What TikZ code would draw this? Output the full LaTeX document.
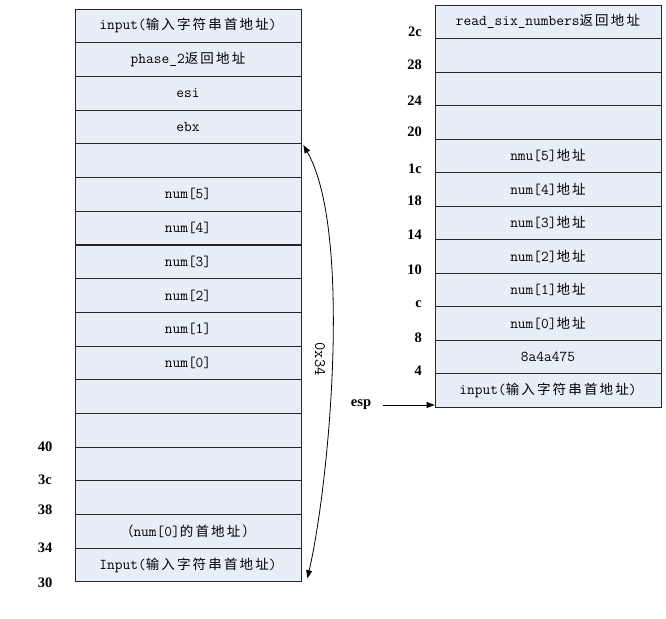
\documentclass[tikz,border=0pt]{standalone}
\usepackage{fontspec}
\setmainfont{Liberation Serif}
\setmonofont{Latin Modern Mono}
\newfontfamily\cjk[LetterSpace=16]{Noto Sans CJK SC}
\usetikzlibrary{arrows.meta,calc}
\newcommand\zh[1]{{\cjk\fontsize{13.5}{15}\selectfont #1}}
\definecolor{cellblue}{HTML}{E8EEF7}
\tikzset{
  cell/.style={draw=black!85, fill=cellblue, line width=0.8pt, minimum width=226pt,
    minimum height=33.6pt, inner sep=0pt, font=\ttfamily\fontsize{15}{17}\selectfont},
  addr/.style={font=\bfseries\fontsize{14.5}{16}\selectfont, inner sep=0pt},
  mytip/.tip={Triangle[length=8pt,width=6pt]},
  conn/.style={line width=0.8pt}
}
\begin{document}
\begin{tikzpicture}[x=1pt,y=-1pt]
\fill[white] (0,0) rectangle (666,618);
\useasboundingbox (0,0) rectangle (666,618);
% left stack
\foreach \i/\t in {0/{input(\zh{输入字符串首地址})},1/{phase\_2\zh{返回地址}},2/esi,3/ebx,4/{},
  5/num[5],6/num[4],7/num[3],8/num[2],9/num[1],10/num[0],11/{},12/{},13/{},14/{},
  15/{\zh{（}num[0]\zh{的首地址）}},16/{Input(\zh{输入字符串首地址})}}
  \node[cell] (L\i) at (188,{25.85+33.7*\i}) {\t};
% right stack
\foreach \i/\t in {0/{read\_six\_numbers\zh{返回地址}},1/{},2/{},3/{},
  4/{nmu[5]\zh{地址}},5/{num[4]\zh{地址}},6/{num[3]\zh{地址}},7/{num[2]\zh{地址}},
  8/{num[1]\zh{地址}},9/{num[0]\zh{地址}},10/8a4a475,11/{input(\zh{输入字符串首地址})}}
  \node[cell] (R\i) at (548,{21.75+33.5*\i}) {\t};
% left address labels
\foreach \n/\y/\t in {a40/447/40,a3c/480/3c,a38/510/38,a34/548/34,a30/583/30}
  \node[addr] (\n) at (45,\y) {\t};
% right address labels
\foreach \n/\y/\t in {b2c/32/2c,b28/65/28,b24/101/24,b20/132/20,b1c/169/1c,b18/201/18,
  b14/235/14,b10/270/10,bc/304/c,b8/338/8,b4/371/4}
  \node[addr, anchor=east] (\n) at (422,\y) {\t};
% span arrow
\coordinate (top) at ($(L3.south east)+(2,1)$);
\coordinate (bot) at ($(L16.south east)+(6,-4)$);
\draw[conn, mytip-mytip] (top) .. controls (352,230) and (330,480) .. (bot);
\node[font=\ttfamily\fontsize{16}{18}\selectfont, rotate=-90, inner sep=0pt] (span) at (320,359) {0x34};
% esp
\node[font=\bfseries\fontsize{14.5}{16}\selectfont, inner sep=0pt] (esp) at (361,405) {esp};
\draw[conn, -mytip] ($(esp.east)+(12,0)$) -- (esp.east -| R11.west);
\end{tikzpicture}
\end{document}
